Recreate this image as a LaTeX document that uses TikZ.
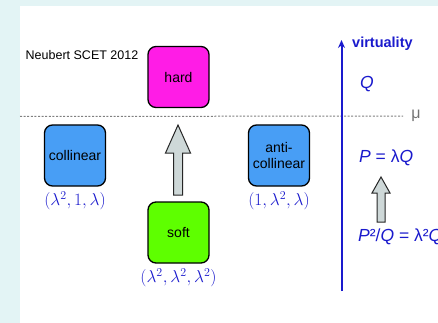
\documentclass[tikz,border=0pt]{standalone}
\usepackage{fontspec}
\setmainfont{Liberation Sans}
\usetikzlibrary{positioning,arrows.meta}
\definecolor{hardpink}{RGB}{255,28,230}
\definecolor{collblue}{RGB}{72,158,245}
\definecolor{softgreen}{RGB}{94,255,0}
\definecolor{axisblue}{RGB}{26,26,205}
\definecolor{arrowgray}{RGB}{206,216,216}
\definecolor{paneltint}{RGB}{227,244,245}
\tikzset{
  region/.style={draw=black,line width=1.3pt,rounded corners=8pt,minimum size=61pt,
    inner sep=0pt,align=center,font=\fontsize{14}{16}\selectfont},
  scaling/.style={text=axisblue,inner sep=1pt,font=\fontsize{16.5}{18}\selectfont},
  fatarrow/.style={draw=black!85,line width=1pt,fill=arrowgray,line join=miter},
  axis/.style={-{Stealth[length=8pt,width=7pt]},line width=2pt,draw=axisblue},
  scaleline/.style={draw=black!50,line width=1pt,dash pattern=on 2pt off 1.6pt},
  axislabel/.style={text=axisblue,inner sep=0pt,font=\fontsize{17.5}{19}\selectfont}
}

\begin{document}
\begin{tikzpicture}[x=1pt,y=-1pt]

% page and panel
\fill[paneltint] (0,0) rectangle (438,323);
\fill[white] (20,6) rectangle (438,323);
\useasboundingbox (0,0) rectangle (438,323);

\node[font=\fontsize{12.5}{14}\selectfont] (cite) at (82,55) {Neubert SCET 2012};

% momentum regions
\node[region,fill=hardpink] (hard) at (178.5,77) {hard};
\node[region,fill=collblue] (coll) at (75,155.5) {collinear};
\node[region,fill=collblue] (anti) at (279,155.5) {anti-\\collinear};
\node[region,fill=softgreen] (soft) at (178.5,232.5) {soft};

% scalings of the momentum components
\node[scaling,below=4pt of coll] (collscal) {$(\lambda^2,1,\lambda)$};
\node[scaling,below=4pt of anti] (antiscal) {$(1,\lambda^2,\lambda)$};
\node[scaling,below=4pt of soft] (softscal) {$(\lambda^2,\lambda^2,\lambda^2)$};

% factorization scale
\coordinate (mustart) at (20,116.5);
\node[text=black!55,inner sep=0pt,font=\fontsize{16}{18}\selectfont] (mu) at (416,116) {μ};
\draw[scaleline,shorten >=8pt] (mustart) -- (mu.west);

% soft -> hard
\draw[fatarrow] (173.5,195) -- (173.5,153) -- (165.5,153) -- (178,125)
  -- (190.5,153) -- (182.5,153) -- (182.5,195) -- cycle;

% virtuality axis
\coordinate (axbot) at (341.5,291);
\coordinate (axtop) at (341.5,40);
\draw[axis] (axbot) -- (axtop);
\node[text=axisblue,anchor=west,inner sep=0pt,font=\bfseries\fontsize{14.5}{16}\selectfont]
  (virt) at (352,44) {virtuality};
\node[axislabel,anchor=west] (Qhard) at (360,84) {\itshape Q};
\node[axislabel,anchor=west] (Qcoll) at (359,158) {{\itshape P} = λ{\itshape Q}};
\node[axislabel,anchor=base west] (Qsoft) at (358,241) {{\itshape P}²/{\itshape Q} = λ²{\itshape Q}};

% soft -> collinear
\draw[fatarrow] (377,222) -- (377,193) -- (372,193) -- (381,177)
  -- (390,193) -- (385,193) -- (385,222) -- cycle;

\end{tikzpicture}
\end{document}
